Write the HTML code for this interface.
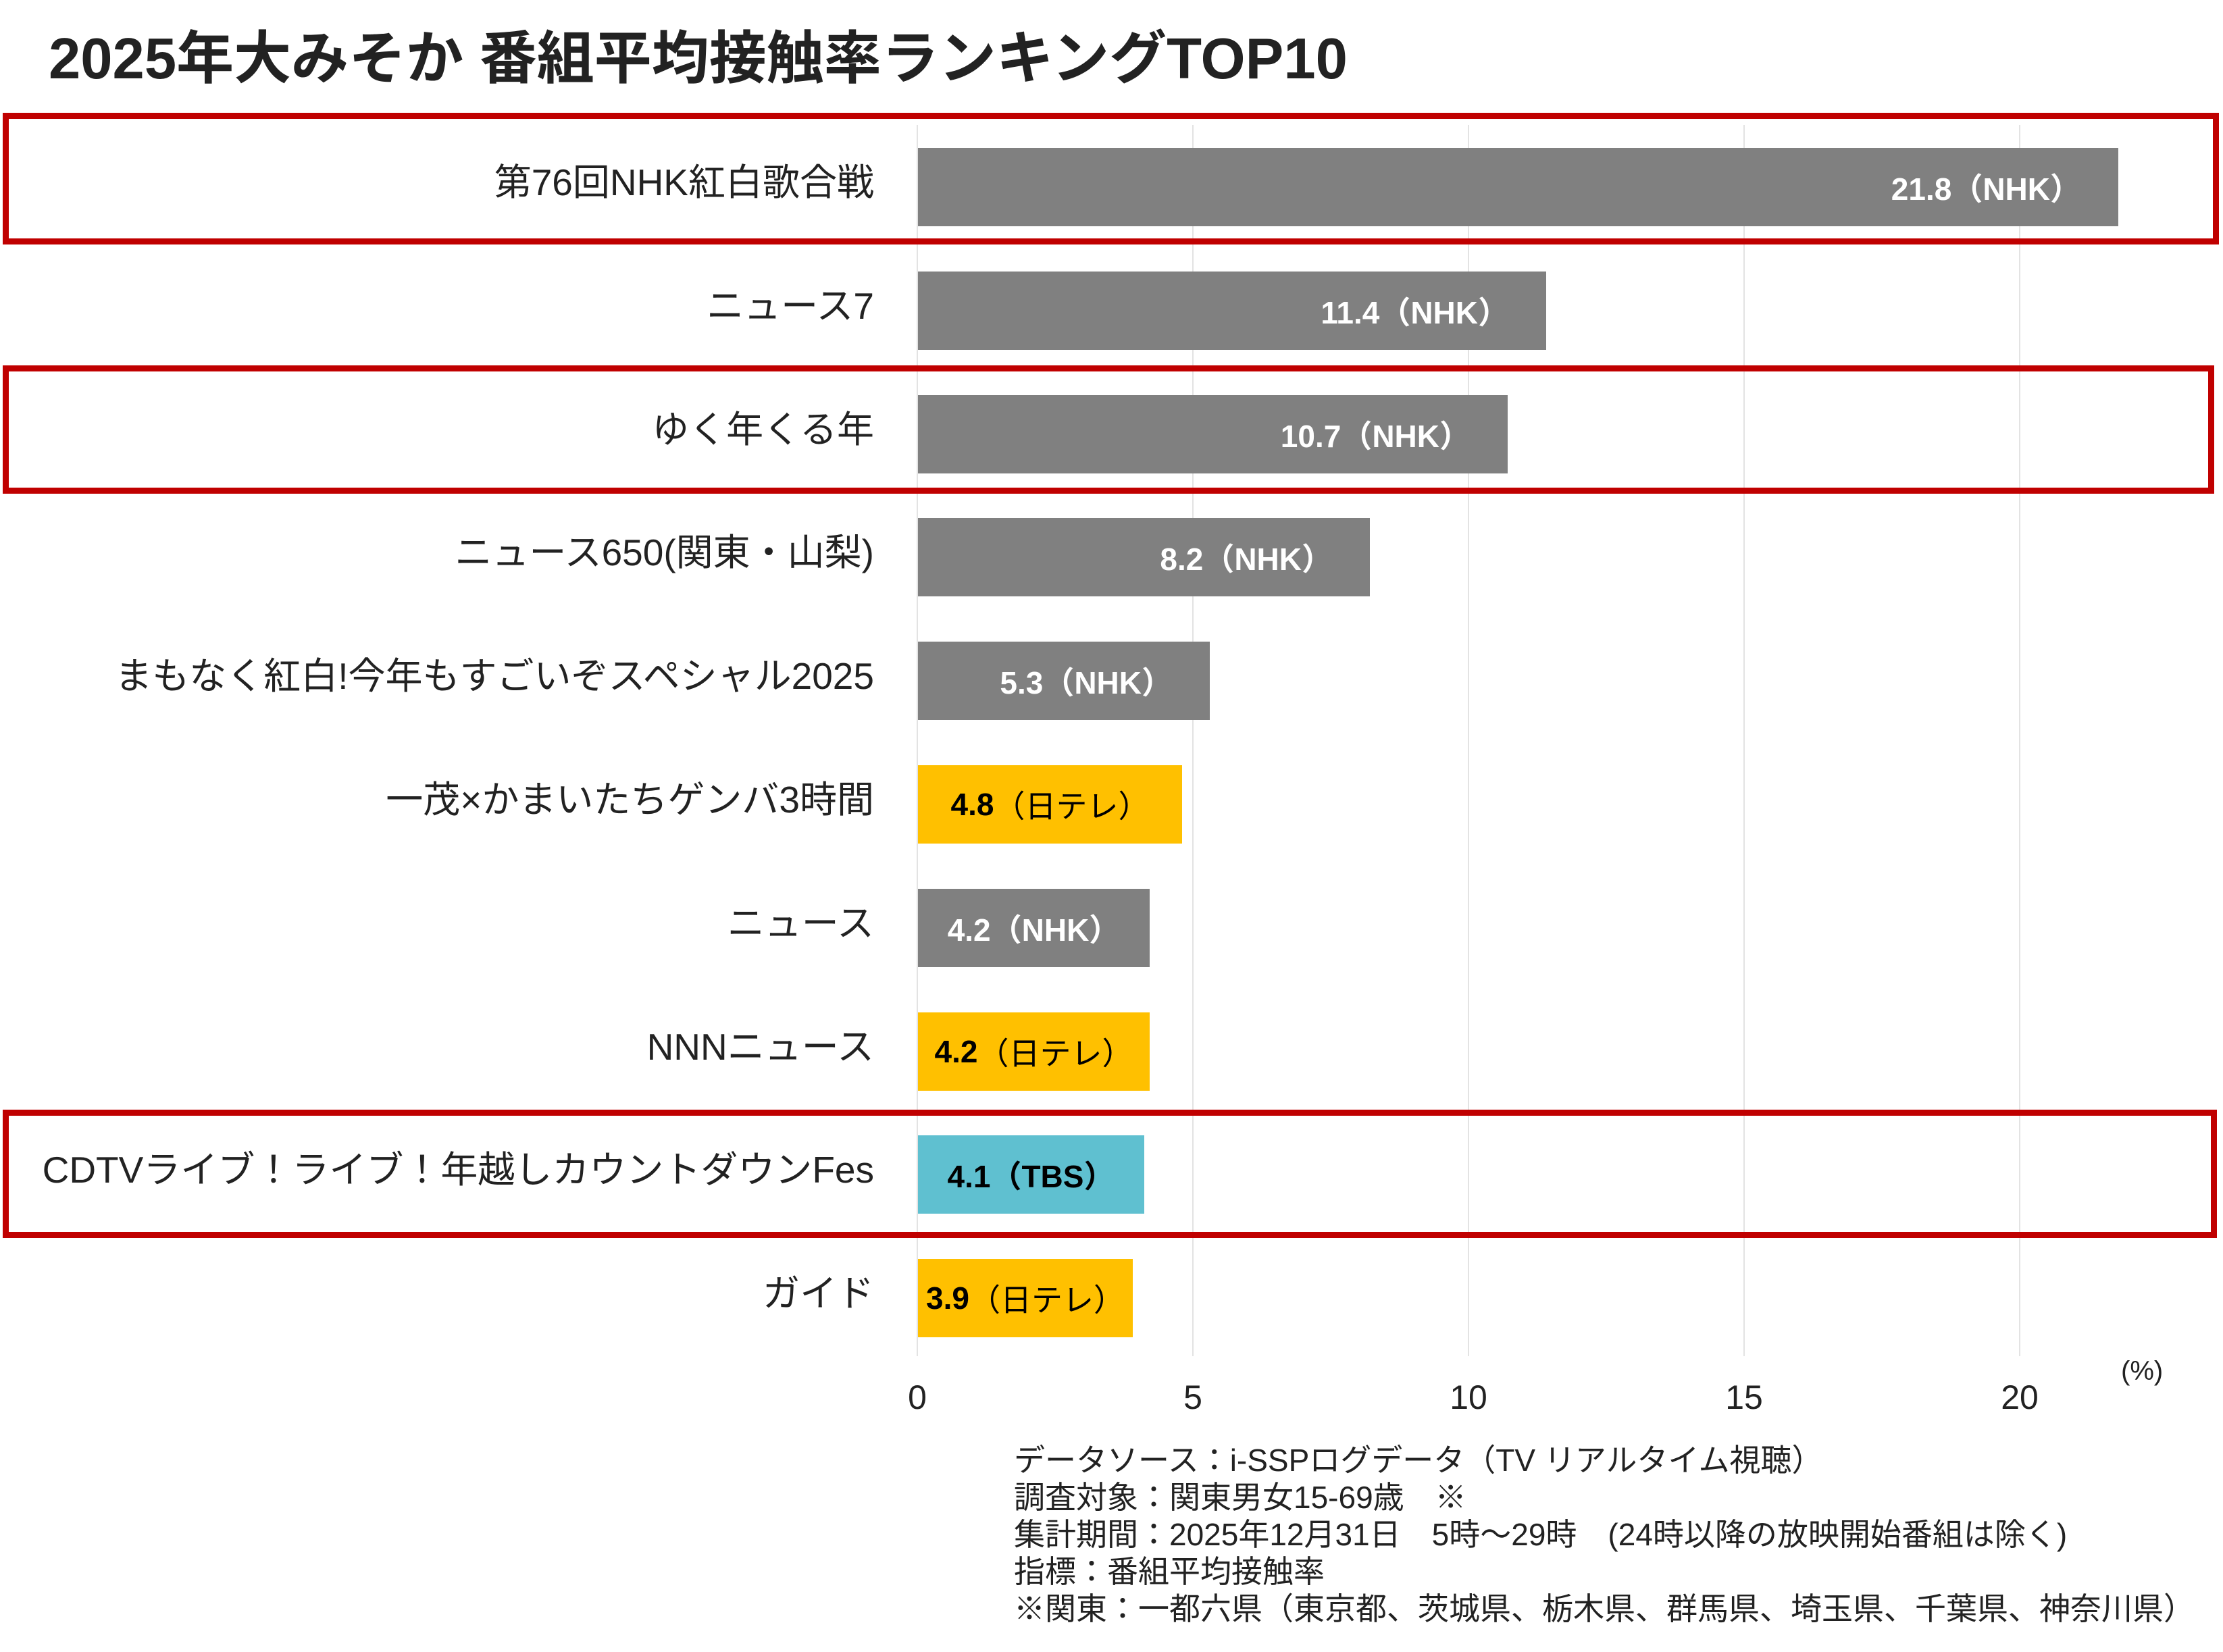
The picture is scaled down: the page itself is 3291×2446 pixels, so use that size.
<!DOCTYPE html>
<html><head><meta charset="utf-8"><style>
body{margin:0;width:3291px;height:2446px;background:#fff;position:relative;overflow:hidden;font-family:"Liberation Sans","Noto Sans CJK JP",sans-serif;color:#222}
.a{position:absolute}
.grid{position:absolute;top:185px;height:1823px;width:2px;background:#e3e3e3}
.bar{position:absolute;left:1359px;height:116px;display:flex;align-items:center;justify-content:flex-end;box-sizing:border-box;padding-right:55px;font-size:46px;font-weight:bold;white-space:nowrap}
.c{justify-content:center;padding-right:0}
.g{background:#808080;color:#fff}
.y{background:#FFC000;color:#000}
.b{background:#5FC0D0;color:#000}
.n{font-weight:normal}
.lab{position:absolute;right:1997px;font-size:55px;line-height:116px;height:116px;white-space:nowrap;color:#222}
.box{position:absolute;border:9px solid #C00000;box-sizing:border-box;left:4px}
.ax{position:absolute;top:2040px;font-size:50px;width:200px;text-align:center;margin-left:-100px}
.fn{position:absolute;left:1501px;font-size:46px;line-height:55px;top:2135px;white-space:nowrap}
</style></head><body>
<div class="a" style="left:72px;top:18px;font-size:85px;font-weight:bold;color:#222;white-space:nowrap">2025年大みそか 番組平均接触率ランキングTOP10</div>

<div class="grid" style="left:1357px"></div>
<div class="grid" style="left:1765px"></div>
<div class="grid" style="left:2173px"></div>
<div class="grid" style="left:2581px"></div>
<div class="grid" style="left:2989px"></div>

<div class="bar g" style="top:219px;width:1777px">21.8（NHK）</div>
<div class="bar g" style="top:402px;width:930px">11.4（NHK）</div>
<div class="bar g" style="top:585px;width:873px">10.7（NHK）</div>
<div class="bar g" style="top:767px;width:669px">8.2（NHK）</div>
<div class="bar g" style="top:950px;width:432px">5.3（NHK）</div>
<div class="bar y c" style="top:1133px;width:391px">4.8<span class="n">（日テレ）</span></div>
<div class="bar g c" style="top:1316px;width:343px">4.2（NHK）</div>
<div class="bar y c" style="top:1499px;width:343px">4.2<span class="n">（日テレ）</span></div>
<div class="bar b c" style="top:1681px;width:335px">4.1（TBS）</div>
<div class="bar y c" style="top:1864px;width:318px">3.9<span class="n">（日テレ）</span></div>

<div class="lab" style="top:212px">第76回NHK紅白歌合戦</div>
<div class="lab" style="top:395px">ニュース7</div>
<div class="lab" style="top:578px">ゆく年くる年</div>
<div class="lab" style="top:760px">ニュース650(関東・山梨)</div>
<div class="lab" style="top:943px">まもなく紅白!今年もすごいぞスペシャル2025</div>
<div class="lab" style="top:1126px">一茂×かまいたちゲンバ3時間</div>
<div class="lab" style="top:1309px">ニュース</div>
<div class="lab" style="top:1492px">NNNニュース</div>
<div class="lab" style="top:1674px">CDTVライブ！ライブ！年越しカウントダウンFes</div>
<div class="lab" style="top:1857px">ガイド</div>

<div class="box" style="top:167px;width:3281px;height:195px"></div>
<div class="box" style="top:541px;width:3274px;height:190px"></div>
<div class="box" style="top:1643px;width:3278px;height:190px"></div>

<div class="ax" style="left:1358px">0</div>
<div class="ax" style="left:1766px">5</div>
<div class="ax" style="left:2174px">10</div>
<div class="ax" style="left:2582px">15</div>
<div class="ax" style="left:2990px">20</div>
<div class="a" style="left:3140px;top:2008px;font-size:40px">(%)</div>

<div class="fn">データソース：i-SSPログデータ（TV リアルタイム視聴）<br>調査対象：関東男女15-69歳　※<br>集計期間：2025年12月31日　5時～29時　(24時以降の放映開始番組は除く)<br>指標：番組平均接触率<br>※関東：一都六県（東京都、茨城県、栃木県、群馬県、埼玉県、千葉県、神奈川県）</div>
</body></html>
